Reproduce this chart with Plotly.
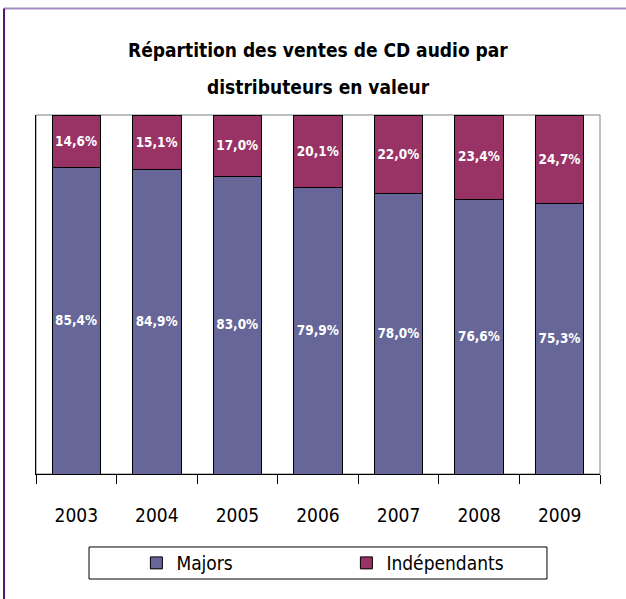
import plotly.graph_objects as go

annees = ['2003', '2004', '2005', '2006', '2007', '2008', '2009']
majors = [85.4, 84.9, 83.0, 79.9, 78.0, 76.6, 75.3]
independants = [14.6, 15.1, 17.0, 20.1, 22.0, 23.4, 24.7]

FONT = 'DejaVu Sans Condensed, DejaVu Sans, sans-serif'


def etiquettes(vals):
    return [f'{v:.1f}%'.replace('.', ',') for v in vals]


fig = go.Figure()

fig.add_trace(go.Bar(
    x=annees,
    y=majors,
    name='Majors',
    marker=dict(color='#666699', line=dict(color='black', width=1)),
    text=etiquettes(majors),
    textposition='inside',
    insidetextanchor='middle',
    textangle=0,
    textfont=dict(family=FONT, size=15, color='white', weight='bold'),
    hoverinfo='skip'
))
fig.add_trace(go.Bar(
    x=annees,
    y=independants,
    name='Indépendants',
    marker=dict(color='#993366', line=dict(color='black', width=1)),
    text=etiquettes(independants),
    textposition='inside',
    insidetextanchor='middle',
    textangle=0,
    textfont=dict(family=FONT, size=15, color='white', weight='bold'),
    hoverinfo='skip'
))

fig.update_layout(
    barmode='stack',
    bargap=0.4,
    width=626,
    height=599,
    paper_bgcolor='white',
    plot_bgcolor='white',
    font=dict(family=FONT, color='black'),
    margin=dict(l=36, r=26, t=115, b=125),
    xaxis=dict(
        type='category',
        showline=True, linecolor='black', linewidth=1,
        ticks='outside', tickson='boundaries', ticklen=9, tickcolor='black',
        ticklabelstandoff=24,
        tickfont=dict(family=FONT, size=19, color='black'),
        showgrid=False, zeroline=False,
    ),
    yaxis=dict(
        range=[0, 100],
        showline=True, linecolor='black', linewidth=1,
        showticklabels=False, ticks='', showgrid=False, zeroline=False,
    ),
    showlegend=True,
    legend=dict(
        orientation='h',
        traceorder='normal',
        x=0.178, xanchor='left',
        y=-0.248, yanchor='middle',
        font=dict(family=FONT, size=19, color='black'),
        entrywidth=165,
        bgcolor='rgba(0,0,0,0)',
        borderwidth=0,
    ),
    annotations=[
        dict(text='<b>Répartition des ventes de CD audio par</b>', xref='paper', yref='paper',
             x=0.5, y=1.181, xanchor='center', yanchor='middle', showarrow=False,
             font=dict(family=FONT, size=19, color='black')),
        dict(text='<b>distributeurs en valeur</b>', xref='paper', yref='paper',
             x=0.5, y=1.078, xanchor='center', yanchor='middle', showarrow=False,
             font=dict(family=FONT, size=19, color='black')),
    ],
    shapes=[
        # cadre gris de la zone de tracé
        dict(type='rect', xref='paper', yref='paper', x0=0, x1=1, y0=0, y1=1,
             line=dict(color='#808080', width=1), layer='below'),
        # cadre de la légende
        dict(type='rect', xref='paper', yref='paper', x0=0.094, x1=0.906,
             y0=-0.2925, y1=-0.2033, line=dict(color='black', width=1)),
        # bordure violette du graphique
        dict(type='line', xref='paper', yref='paper', x0=-0.0567, x1=1.06,
             y0=1.2967, y1=1.2967, line=dict(color='#a58cc0', width=2)),
        dict(type='line', xref='paper', yref='paper', x0=-0.0567, x1=-0.0567,
             y0=1.2967, y1=-0.36, line=dict(color='#52126e', width=2)),
    ],
)

fig.write_html('out.html', config={'displayModeBar': False},
               post_script="document.body.style.margin='0';")
